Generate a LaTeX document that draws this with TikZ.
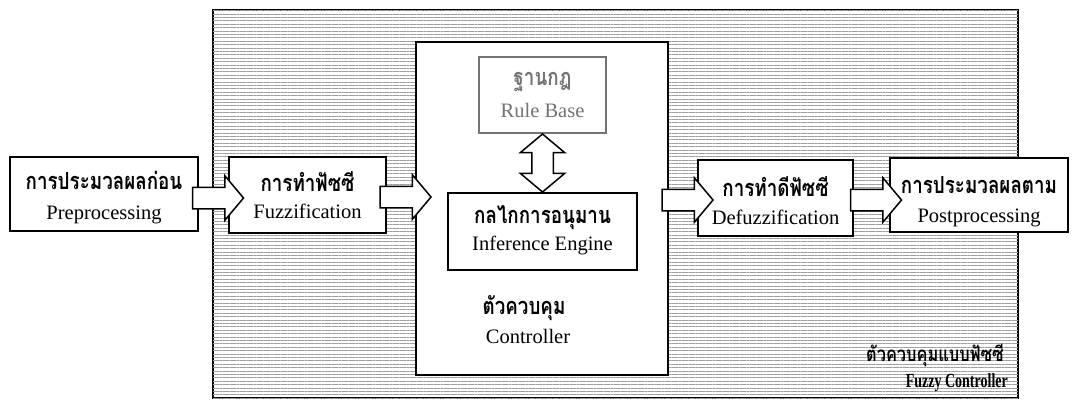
\documentclass[tikz,border=0pt]{standalone}
\usepackage{fontspec}
\setmainfont{Liberation Serif}
\newfontfamily\thaifont[Script=Thai,FakeStretch=0.8]{Loma}
\newfontfamily\narrowserif[FakeStretch=0.7]{Liberation Serif}
\usetikzlibrary{shapes.arrows,patterns.meta,calc}

\begin{document}
\begin{tikzpicture}[x=1pt,y=-1pt,
  box/.style={draw=black,line width=1.7pt,fill=white,inner sep=0pt},
  graybox/.style={draw=black!55,line width=1.7pt,fill=white,inner sep=0pt},
  th/.style={font=\thaifont\bfseries\fontsize{23.5}{26}\selectfont,inner sep=0pt},
  en/.style={font=\fontsize{20.5}{24}\selectfont,inner sep=0pt},
  blockarrow/.style={single arrow,draw=black,line width=1.5pt,fill=white,
    inner sep=10pt,minimum height=51pt,single arrow head extend=11.5pt,
    single arrow tip angle=100,anchor=center},
  dblarrow/.style={double arrow,draw=black,line width=1.5pt,fill=white,
    inner sep=10pt,double arrow head extend=11.5pt,
    double arrow tip angle=100,anchor=center,rotate=90}
]
\useasboundingbox (0,0) rectangle (1075,405);

% fuzzy controller frame with its ruled texture
\node[draw=black,line width=1.8pt,fill=white,inner sep=0pt,
      minimum width=805,minimum height=388,
      postaction={pattern={Lines[angle=0,distance=3.4pt,line width=0.7pt]},pattern color=black!38}]
      (frame) at (615.5,204) {};

% controller
\node[box,minimum width=252,minimum height=333] (ctrl) at (542,208.5) {};
\node[graybox,minimum width=127,minimum height=76] (rule) at (542.5,95) {};
\node[box,minimum width=189,minimum height=77] (inf) at (542.5,231.5) {};

% outer blocks
\node[box,minimum width=188,minimum height=74] (pre) at (104,194) {};
\node[box,minimum width=157,minimum height=76] (fuzz) at (307.5,195) {};
\node[box,minimum width=155,minimum height=76] (defuzz) at (775.5,198) {};
\node[box,minimum width=178,minimum height=74] (post) at (979,195) {};

% labels
\node[th] (preT) at (104,180) {การประมวลผลก่อน};
\node[en] (preE) at (104,215) {Preprocessing};
\node[th] (fuzzT) at (307.5,182) {การทำฟัซซี};
\node[en] (fuzzE) at (307.5,211) {Fuzzification};
\node[th,text=black!55] (ruleT) at (542.5,82) {ฐานกฎ};
\node[en,text=black!55] (ruleE) at (542.5,110) {Rule Base};
\node[th] (infT) at (542.5,218) {กลไกการอนุมาน};
\node[en] (infE) at (542.5,245) {Inference Engine};
\node[th] (ctrlT) at (524,308) {ตัวควบคุม};
\node[en] (ctrlE) at (528,336) {Controller};
\node[th] (defT) at (775.5,187) {การทำดีฟัซซี};
\node[en] (defE) at (775.5,217) {Defuzzification};
\node[th] (postT) at (979,185) {การประมวลผลตาม};
\node[en] (postE) at (979,218) {Postprocessing};
\node[th,font=\thaifont\bfseries\fontsize{20.5}{24}\selectfont,anchor=east] (frameT) at (1004,355) {ตัวควบคุมแบบฟัซซี};
\node[en,font=\narrowserif\bfseries\fontsize{20}{22}\selectfont,anchor=east] (frameE) at (1008,383) {Fuzzy Controller};

% block arrows between the stages
\coordinate (m1) at ($(pre.east)!.5!(fuzz.west)$);
\coordinate (m2) at ($(fuzz.east)!.5!(ctrl.west)$);
\coordinate (m3) at ($(ctrl.east)!.5!(defuzz.west)$);
\coordinate (m4) at ($(defuzz.east)!.5!(post.west)$);
\node[blockarrow] (a1) at (m1 |- 0,198) {};
\node[blockarrow] (a2) at (m2 |- 0,197) {};
\node[blockarrow] (a3) at (m3 |- 0,200) {};
\node[blockarrow] (a4) at (m4 |- 0,200) {};

% two-way link between rule base and inference engine
\coordinate (m5) at ($(rule.south)!.5!(inf.north)$);
\node[dblarrow,minimum height=58pt] (a5) at (m5) {};
\end{tikzpicture}
\end{document}
